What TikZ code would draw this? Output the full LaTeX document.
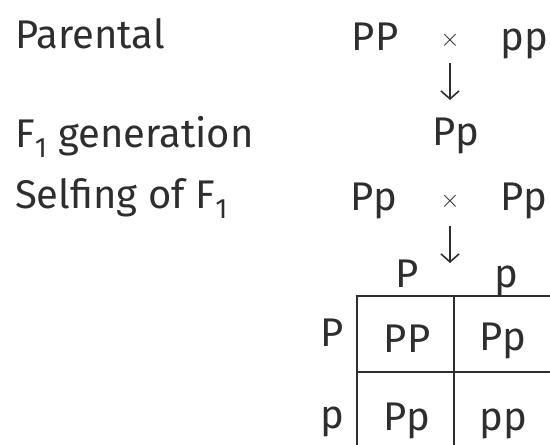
\documentclass[tikz,border=0pt]{standalone}
\usepackage{fontspec}
\setmainfont{Fira Sans}
\usetikzlibrary{arrows.meta}
\definecolor{ink}{HTML}{2E2E2E}
\begin{document}
\begin{tikzpicture}[x=1pt,y=-1pt,
  lbl/.style={anchor=base west,inner sep=0pt,text=ink,font=\fontsize{40}{44}\selectfont},
  geno/.style={anchor=base,inner sep=0pt,text=ink,font=\fontsize{40}{44}\selectfont},
  cross/.style={anchor=center,inner sep=0pt,text=ink,font=\fontsize{24}{26}\selectfont},
  arr/.style={draw=ink,line width=1.6pt,-{Straight Barb[length=8pt,width=18pt,line width=1.6pt]}},
  grid/.style={draw=ink,line width=2.6pt}]
\useasboundingbox (0,0) rectangle (550,445);
% left labels
\node[lbl] (par) at (15,48) {Parental};
\node[lbl] (f1) at (15,147) {F\textsubscript{1} generation};
\node[lbl] (self) at (15,208) {Selfing of F\textsubscript{1}};
% parental cross
\node[geno] (pPP) at (375,50) {PP};
\node[cross] (x1) at (450,40) {$\times$};
\node[geno] (ppp) at (524,50) {pp};
\coordinate (a1s) at (450,63);
\coordinate (a1e) at (450,100);
\draw[arr] (a1s) -- (a1e);
% F1
\node[geno] (fPp) at (456,145) {Pp};
% selfing cross
\node[geno] (sPp1) at (374,210) {Pp};
\node[cross] (x2) at (450,201) {$\times$};
\node[geno] (sPp2) at (524,210) {Pp};
\coordinate (a2s) at (450,226);
\coordinate (a2e) at (450,263);
\draw[arr] (a2s) -- (a2e);
% Punnett headers
\node[geno] (hP) at (407,287) {P};
\node[geno] (hp) at (506,287) {p};
\node[geno] (vP) at (332,346) {P};
\node[geno] (vp) at (332,428) {p};
% grid
\coordinate (g1) at (357,296);
\coordinate (g2) at (560,455);
\draw[grid] (g2) |- (g1) |- (g2);
\coordinate (gm1) at (454,296);
\coordinate (gm2) at (454,455);
\draw[grid] (gm1) -- (gm2);
\coordinate (gh1) at (357,372);
\coordinate (gh2) at (560,372);
\draw[grid] (gh1) -- (gh2);
% cells
\node[geno] (c11) at (407,352) {PP};
\node[geno] (c12) at (503,350) {Pp};
\node[geno] (c21) at (407,430) {Pp};
\node[geno] (c22) at (503,430) {pp};
\end{tikzpicture}
\end{document}
